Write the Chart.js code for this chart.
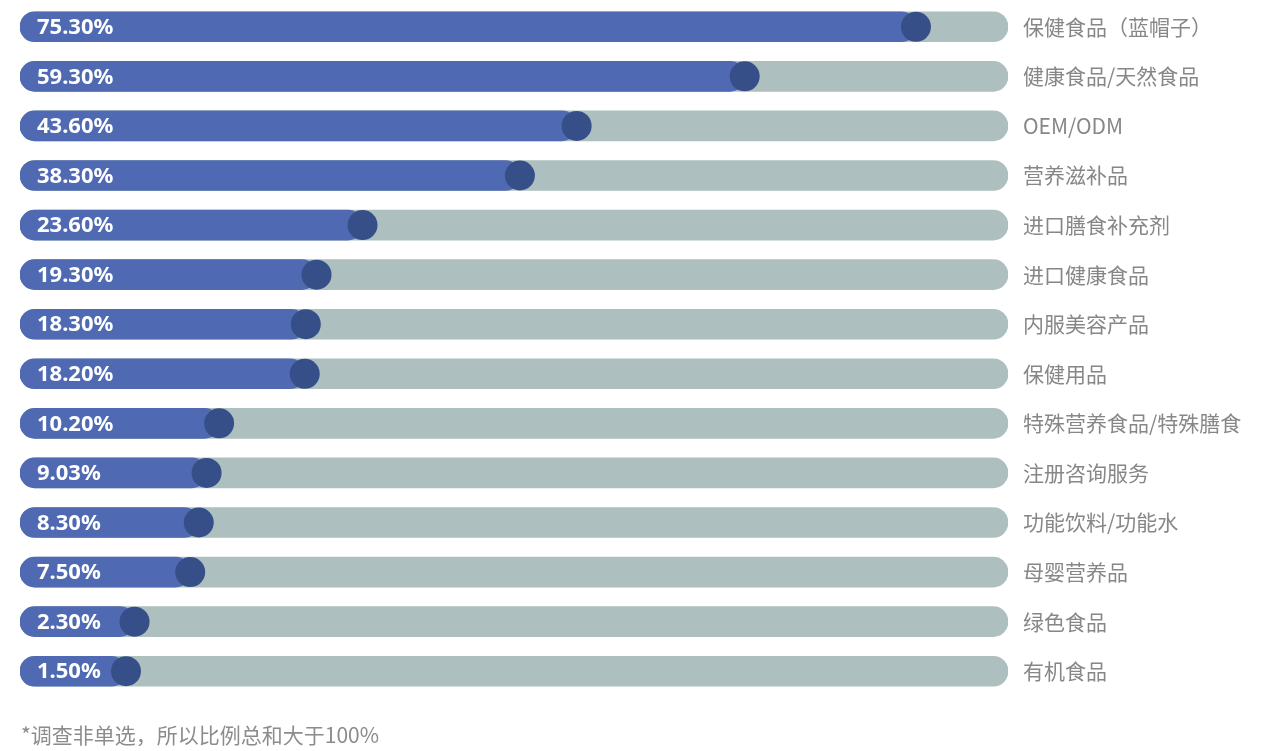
<!DOCTYPE html>
<html lang="zh">

<head>
    <meta charset="UTF-8" />
    <title>Chart</title>
    <script src="https://cdn.jsdelivr.net/npm/chart.js"></script>
    <style>
        body { margin: 0; background: #fff; }
        #wrap { position: relative; width: 1269px; height: 751px; }
        #note {
            position: absolute; left: 21px; top: 719px;
            font: 21px "Noto Sans CJK SC", sans-serif; color: #8c8c8c;
        }
    </style>
</head>

<body>
    <div id="wrap">
        <canvas id="chart"></canvas>
        <div id="note">*调查非单选，所以比例总和大于100%</div>
    </div>
    <script>
        const categories = ["保健食品（蓝帽子）", "健康食品/天然食品", "OEM/ODM", "营养滋补品", "进口膳食补充剂",
            "进口健康食品", "内服美容产品", "保健用品", "特殊营养食品/特殊膳食", "注册咨询服务",
            "功能饮料/功能水", "母婴营养品", "绿色食品", "有机食品"];
        const shares = [75.3, 59.3, 43.6, 38.3, 23.6, 19.3, 18.3, 18.2, 10.2, 9.03, 8.3, 7.5, 2.3, 1.5];

        // axis range: the grey track spans the whole chart area
        const axisMin = -8.4;
        const axisMax = 83.9;

        // white percent text inside the blue bars
        const valueLabels = {
            id: "valueLabels",
            afterDatasetsDraw(chart) {
                const ctx = chart.ctx;
                const meta = chart.getDatasetMeta(1);
                ctx.save();
                ctx.fillStyle = "#ffffff";
                ctx.font = "bold 22px 'Noto Sans', sans-serif";
                ctx.textBaseline = "middle";
                meta.data.forEach((bar, i) => {
                    ctx.fillText(shares[i].toFixed(2) + "%", chart.chartArea.left + 17, bar.y + 1);
                });
                ctx.restore();
            },
        };

        var ctx = document.getElementById("chart").getContext("2d");
        var myChart = new Chart(ctx, {
            type: "bar",
            data: {
                labels: categories,
                datasets: [
                    {
                        type: "scatter",
                        data: categories.map((c, i) => ({ x: shares[i], y: c })),
                        backgroundColor: "#364f88",
                        borderWidth: 0,
                        pointRadius: 15,
                        pointHoverRadius: 15,
                        order: 1,
                    },
                    {
                        data: shares.map((v) => [axisMin, v]),
                        backgroundColor: "#4f6ab3",
                        borderRadius: 15,
                        borderSkipped: false,
                        barThickness: 30,
                        grouped: false,
                        order: 2,
                    },
                    {
                        data: shares.map(() => [axisMin, axisMax]),
                        backgroundColor: "#aebfbf",
                        borderRadius: 15,
                        borderSkipped: false,
                        barThickness: 30,
                        grouped: false,
                        order: 3,
                    },
                ],
            },
            options: {
                indexAxis: "y",
                responsive: true,
                maintainAspectRatio: false,
                animation: false,
                layout: { autoPadding: false, padding: { left: 20, right: 0, top: 2, bottom: 55 } },
                plugins: {
                    legend: { display: false },
                    tooltip: { enabled: false },
                },
                scales: {
                    x: {
                        min: axisMin,
                        max: axisMax,
                        display: false,
                    },
                    y: {
                        position: "right",
                        grid: { display: false, drawTicks: false },
                        border: { display: false },
                        afterFit(scale) {
                            scale.width = 261;
                            scale.paddingTop = 0;
                            scale.paddingBottom = 0;
                        },
                        ticks: {
                            padding: 15,
                            color: "#878787",
                            font: { size: 21, family: "'Noto Sans CJK SC', sans-serif" },
                        },
                    },
                },
            },
            plugins: [valueLabels],
        });
    </script>
</body>

</html>
